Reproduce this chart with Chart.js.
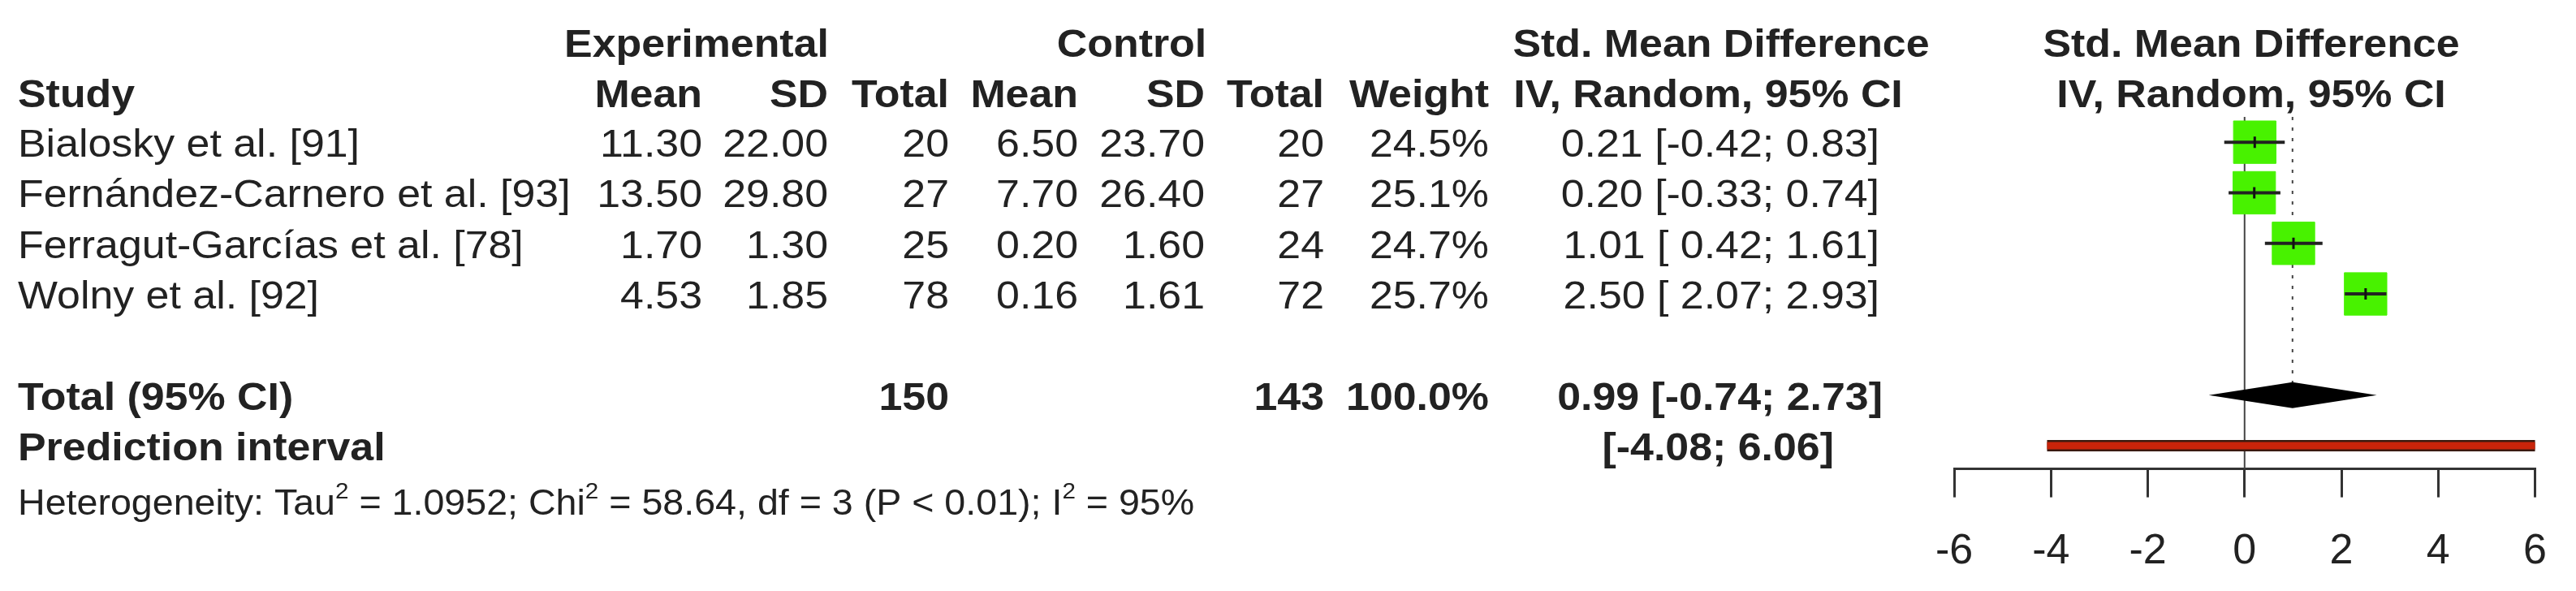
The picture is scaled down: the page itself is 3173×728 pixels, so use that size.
<!DOCTYPE html>
<html>
<head>
<meta charset="utf-8">
<script src="https://cdn.jsdelivr.net/npm/chart.js@4.4.0/dist/chart.umd.min.js"></script>
<style>
  html, body { margin: 0; padding: 0; background: #fff; }
  #wrap { width: 3173px; height: 728px; }
</style>
</head>
<body>
<div id="wrap"><canvas id="forest"></canvas></div>
<script>
// study data
const studies = ['Bialosky et al. [91]', 'Fernández-Carnero et al. [93]', 'Ferragut-Garcías et al. [78]', 'Wolny et al. [92]'];
const expMean = ['11.30', '13.50', '1.70', '4.53'];
const expSD = ['22.00', '29.80', '1.30', '1.85'];
const expTotal = [20, 27, 25, 78];
const ctlMean = ['6.50', '7.70', '0.20', '0.16'];
const ctlSD = ['23.70', '26.40', '1.60', '1.61'];
const ctlTotal = [20, 27, 24, 72];
const weights = ['24.5%', '25.1%', '24.7%', '25.7%'];
const smd = [0.21, 0.20, 1.01, 2.50];
const ciLow = [-0.42, -0.33, 0.42, 2.07];
const ciHigh = [0.83, 0.74, 1.61, 2.93];

// pooled
const pooled = { est: 0.99, lo: -0.74, hi: 2.73 };
const predInt = { lo: -4.08, hi: 6.06 };
const totals = { exp: 150, ctl: 143, weight: '100.0%' };
const xTicks = [-6, -4, -2, 0, 2, 4, 6];

const fmt = v => v.toFixed(2);
const fmtCI = (e, l, h) => fmt(e) + ' [' + (l < 0 ? '' : ' ') + fmt(l) + '; ' + fmt(h) + ']';

const GREEN = '#48f200';
const INK = '#222';

// lower order is drawn on top
const datasets = [];
datasets.push({ order: 9, data: [{ x: 0, y: 0.5 }, { x: 0, y: 7.46 }], borderColor: '#444', borderWidth: 2, pointRadius: 0, showLine: true });
datasets.push({ order: 9, data: [{ x: pooled.est, y: 0.5 }, { x: pooled.est, y: 5.75 }], borderColor: '#444', borderWidth: 2, borderDash: [4, 9], pointRadius: 0, showLine: true });
datasets.push({ order: 5, data: smd.map((v, i) => ({ x: v, y: i + 1 })), pointStyle: 'rect', pointRadius: 37, backgroundColor: GREEN, borderColor: GREEN, showLine: false });
smd.forEach((v, i) => {
  datasets.push({ order: 2, data: [{ x: ciLow[i], y: i + 1 }, { x: ciHigh[i], y: i + 1 }], borderColor: '#222', borderWidth: 4, pointRadius: 0, showLine: true });
});
datasets.push({ order: 1, data: smd.map((v, i) => ({ x: v, y: i + 1 })), pointStyle: 'line', rotation: 90, pointRadius: 7, borderColor: '#111', borderWidth: 3, showLine: false });
datasets.push({ order: 8, data: [{ x: predInt.lo, y: 7 }, { x: predInt.hi, y: 7 }], borderColor: '#3a1a10', borderWidth: 14, pointRadius: 0, showLine: true, borderCapStyle: 'butt' });
datasets.push({ order: 7, data: [{ x: predInt.lo, y: 7 }, { x: predInt.hi, y: 7 }], borderColor: '#c8240a', borderWidth: 9, pointRadius: 0, showLine: true, borderCapStyle: 'butt' });

const FONT = '"Liberation Sans", Arial, sans-serif';

const tablePlugin = {
  id: 'table',
  afterDatasetsDraw(chart) {
    const { ctx, scales: { x, y } } = chart;
    const yd = y.getPixelForValue(6);
    ctx.save();
    ctx.beginPath();
    ctx.moveTo(x.getPixelForValue(pooled.lo), yd);
    ctx.lineTo(x.getPixelForValue(pooled.est), yd - 16);
    ctx.lineTo(x.getPixelForValue(pooled.hi), yd);
    ctx.lineTo(x.getPixelForValue(pooled.est), yd + 16);
    ctx.closePath();
    ctx.fillStyle = '#000';
    ctx.fill();
    ctx.restore();
  },
  afterDraw(chart) {
    const { ctx, scales: { y } } = chart;
    ctx.save();
    ctx.font = '49px ' + FONT;
    const sx = 421 / ctx.measureText('Bialosky et al. [91]').width;
    ctx.fillStyle = INK;
    ctx.textBaseline = 'alphabetic';
    const put = (t, px, py, align, bold, size) => {
      ctx.font = (bold ? 'bold ' : '') + (size || 49) + 'px ' + FONT;
      let w = ctx.measureText(t).width * sx;
      let left = align === 'right' ? px - w : align === 'center' ? px - w / 2 : px;
      ctx.save();
      ctx.translate(left, py);
      ctx.scale(sx, 1);
      ctx.fillText(t, 0, 0);
      ctx.restore();
      return w;
    };
    const base = v => y.getPixelForValue(v) + 18;
    const col = { em: 865, es: 1020, et: 1169, cm: 1328, cs: 1484, ct: 1631, w: 1834, ci: 2315 };
    put('Experimental', 858, 70, 'center', true);
    put('Control', 1394, 70, 'center', true);
    put('Std. Mean Difference', 2120, 70, 'center', true);
    put('Std. Mean Difference', 2773, 70, 'center', true);
    put('Study', 22, 132, 'left', true);
    put('Mean', col.em, 132, 'right', true);
    put('SD', col.es, 132, 'right', true);
    put('Total', col.et, 132, 'right', true);
    put('Mean', col.cm, 132, 'right', true);
    put('SD', col.cs, 132, 'right', true);
    put('Total', col.ct, 132, 'right', true);
    put('Weight', col.w, 132, 'right', true);
    put('IV, Random, 95% CI', 2104, 132, 'center', true);
    put('IV, Random, 95% CI', 2773, 132, 'center', true);
    studies.forEach((s, i) => {
      const b = base(i + 1);
      put(s, 22, b, 'left');
      put(expMean[i], col.em, b, 'right');
      put(expSD[i], col.es, b, 'right');
      put(String(expTotal[i]), col.et, b, 'right');
      put(ctlMean[i], col.cm, b, 'right');
      put(ctlSD[i], col.cs, b, 'right');
      put(String(ctlTotal[i]), col.ct, b, 'right');
      put(weights[i], col.w, b, 'right');
      put(fmtCI(smd[i], ciLow[i], ciHigh[i]), col.ci, b, 'right');
    });
    const bt = base(6);
    put('Total (95% CI)', 22, bt, 'left', true);
    put(String(totals.exp), col.et, bt, 'right', true);
    put(String(totals.ctl), col.ct, bt, 'right', true);
    put(totals.weight, col.w, bt, 'right', true);
    put(fmtCI(pooled.est, pooled.lo, pooled.hi), col.ci + 4, bt, 'right', true);
    const bp = base(7);
    put('Prediction interval', 22, bp, 'left', true);
    put('[' + fmt(predInt.lo) + '; ' + fmt(predInt.hi) + ']', 2259, bp, 'right', true);
    let hx = 22;
    const hy = 634;
    const parts = [['Heterogeneity: Tau', 0], ['2', 1], [' = 1.0952; Chi', 0], ['2', 1], [' = 58.64, df = 3 (P < 0.01); I', 0], ['2', 1], [' = 95%', 0]];
    parts.forEach(([t, sup]) => {
      hx += put(t, hx, sup ? hy - 20 : hy, 'left', false, sup ? 28 : 44);
    });
    ctx.restore();
  }
};

new Chart(document.getElementById('forest'), {
  type: 'scatter',
  data: { datasets },
  options: {
    responsive: true,
    maintainAspectRatio: false,
    animation: false,
    devicePixelRatio: 1,
    layout: { padding: { left: 2407, right: 33, top: 144, bottom: -19 } },
    plugins: { legend: { display: false }, tooltip: { enabled: false } },
    scales: {
      x: {
        type: 'linear', min: -6, max: 6,
        afterBuildTicks: axis => { axis.ticks = xTicks.map(v => ({ value: v })); },
        grid: { display: true, drawOnChartArea: false, drawTicks: true, tickLength: 35, color: '#333', lineWidth: 3 },
        border: { display: true, color: '#333', width: 3 },
        ticks: { font: { size: 52, family: FONT }, color: INK, padding: 36, maxRotation: 0 }
      },
      y: { type: 'linear', min: 0.5, max: 7.46, reverse: true, display: false }
    }
  },
  plugins: [tablePlugin]
});
</script>
</body>
</html>
